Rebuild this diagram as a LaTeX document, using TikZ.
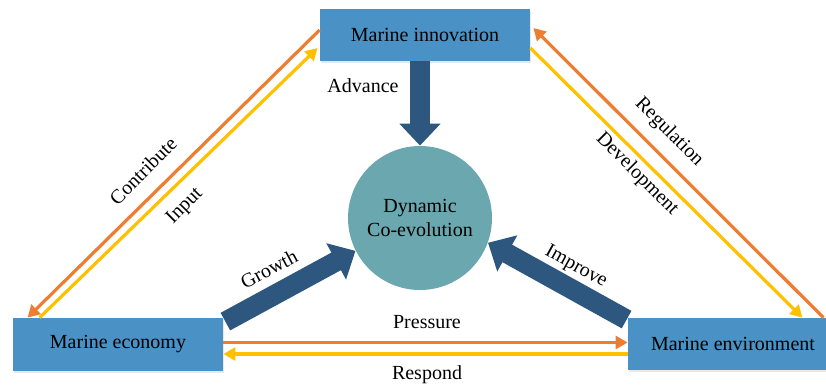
\documentclass[tikz,border=0pt]{standalone}
\usepackage{fontspec}
\setmainfont{LiberationSerif}[Extension=.ttf, UprightFont=*-Regular, BoldFont=*-Bold]
\usetikzlibrary{arrows.meta,shadows}

\definecolor{boxblue}{RGB}{74,145,197}
\definecolor{hubteal}{RGB}{106,167,175}
\definecolor{deepblue}{RGB}{45,87,126}
\definecolor{floworange}{RGB}{237,125,49}
\definecolor{flowyellow}{RGB}{255,192,0}

\begin{document}
\begin{tikzpicture}[x=0.5pt,y=-0.5pt,
  factor/.style={fill=boxblue, minimum width=105pt, minimum height=26pt,
    inner sep=0pt,
    drop shadow={shadow xshift=0.7pt, shadow yshift=-0.8pt, opacity=0.18}},
  hub/.style={circle, fill=hubteal, minimum size=72pt, inner sep=0pt,
    align=center},
  link/.style={line width=1.6pt, -{Triangle[length=6pt,width=6.5pt]}},
  push/.style={deepblue, line width=10pt,
    -{Triangle[length=11pt,width=20pt]}},
  tag/.style={inner sep=0pt}
]
\clip (0,0) rectangle (826,387);

% the three subsystems and the hub
\node[factor] (inn) at (425,35) {Marine innovation};
\node[factor, minimum height=26.5pt] (eco) at (118,344.5) {Marine economy};
\node[factor] (env) at (733,344) {Marine environment};
\node[hub] (hub) at (420,218) {Dynamic\\Co-evolution};

% paired flows between the subsystems
\draw[link, floworange] ([yshift=2.5pt]inn.west) -- ([xshift=7.5pt]eco.north west);
\draw[link, flowyellow] ([xshift=13.5pt]eco.north west) -- ([xshift=-1pt,yshift=-6.5pt]inn.west);
\draw[link, floworange] ([xshift=-7.5pt]env.north east) -- ([xshift=1.5pt,yshift=3.5pt]inn.east);
\draw[link, flowyellow] ([yshift=-6.5pt]inn.east) -- ([xshift=-18pt]env.north east);
\draw[link, floworange] ([yshift=1pt]eco.east) -- ([yshift=1pt]eco.east -| env.west);
\draw[link, flowyellow] ([yshift=-5pt]env.west) -- ([yshift=-5pt]env.west -| eco.east);

% thick arrows into the hub
\draw[push] (inn.south -| hub.north) -- (hub.north);
\draw[push] ([xshift=1pt,yshift=-2pt]eco.north east) -- (hub.207);
\draw[push] ([xshift=-0.5pt,yshift=-1pt]env.north west) -- (hub.340);

% flow labels
\node[tag, rotate=45] (lcontrib) at (143,171) {Contribute};
\node[tag, rotate=45] (linput) at (185,206) {Input};
\node[tag, rotate=-45] (lreg) at (669,132) {Regulation};
\node[tag, rotate=-45] (ldev) at (637,174) {Development};
\node[tag, rotate=28] (lgrowth) at (269,269) {Growth};
\node[tag, rotate=-29] (limprove) at (576,267) {Improve};
\node[tag] (lpress) at (427,322) {Pressure};
\node[tag] (lresp) at (427,375) {Respond};
\node[tag] (ladv) at (363,86) {Advance};
\end{tikzpicture}
\end{document}
